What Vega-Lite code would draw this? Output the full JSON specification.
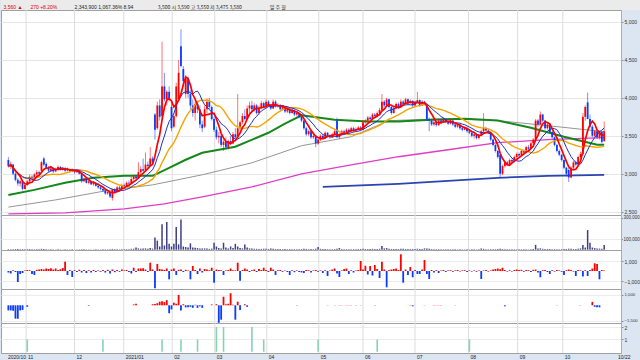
{
"$schema":"https://vega.github.io/schema/vega-lite/v6.json",
"padding":0,
"background":"#dbe6f2",
"spacing":0,
"bounds":"flush",
"config":{"view":{"fill":"#ffffff","stroke":"#a0a0a0","strokeWidth":1},"text":{"font":"Noto Sans CJK KR","fontSize":5},"axis":{"labelFont":"Liberation Sans","labelFontSize":5,"labelColor":"#333333","labelOverlap":false}},
"datasets":{
"months":[{"b":7.5},{"b":28},{"b":48.8},{"b":69.3},{"b":87.3},{"b":109.3},{"b":131.3},{"b":150},{"b":172},{"b":194.6},{"b":215.4},{"b":234.5}],
"d":[
{"i":0,"o":3180,"h":3220,"l":3080,"c":3100,"v":5000,"f":-150,"g":-500},
{"i":1,"o":3100,"h":3160,"l":3060,"c":3130,"v":4000,"f":-250,"g":-500},
{"i":2,"o":3120,"h":3130,"l":2980,"c":3000,"v":5000,"f":80,"g":-520},
{"i":3,"o":3000,"h":3020,"l":2900,"c":2920,"v":6000,"f":-100,"g":-1300},
{"i":4,"o":2920,"h":2940,"l":2840,"c":2870,"v":7000,"f":-1100,"g":-1300},
{"i":5,"o":2870,"h":2920,"l":2830,"c":2900,"v":4000,"f":-300,"g":-500},
{"i":6,"o":2890,"h":2900,"l":2780,"c":2800,"v":5000,"f":-200,"g":-450},
{"i":7,"o":2800,"h":2870,"l":2790,"c":2850,"v":4000,"f":60,"g":0},
{"i":8,"o":2850,"h":2920,"l":2840,"c":2900,"v":5000,"f":100,"g":-150},
{"i":9,"o":2900,"h":2990,"l":2890,"c":2960,"v":6000,"f":80,"g":0},
{"i":10,"o":2960,"h":2980,"l":2910,"c":2930,"v":3000,"f":-300,"g":0},
{"i":11,"o":2930,"h":3010,"l":2920,"c":2990,"v":4000,"f":-400,"g":0},
{"i":12,"o":2990,"h":3050,"l":2970,"c":3020,"v":5000,"f":120,"g":0},
{"i":13,"o":3020,"h":3040,"l":2980,"c":3000,"v":3000,"f":150,"g":0},
{"i":14,"o":3040,"h":3170,"l":3030,"c":3150,"v":8000,"f":200,"g":0},
{"i":15,"o":3200,"h":3220,"l":3100,"c":3120,"v":6000,"f":150,"g":0},
{"i":16,"o":3130,"h":3150,"l":3060,"c":3080,"v":4000,"f":250,"g":0},
{"i":17,"o":3080,"h":3100,"l":3020,"c":3040,"v":3000,"f":200,"g":0},
{"i":18,"o":3040,"h":3090,"l":3030,"c":3070,"v":3000,"f":280,"g":0},
{"i":19,"o":3070,"h":3080,"l":3010,"c":3030,"v":3000,"f":150,"g":0},
{"i":20,"o":3030,"h":3080,"l":3020,"c":3060,"v":2000,"f":250,"g":0},
{"i":21,"o":3060,"h":3110,"l":3050,"c":3090,"v":3000,"f":100,"g":0},
{"i":22,"o":3090,"h":3100,"l":3040,"c":3050,"v":3000,"f":180,"g":0},
{"i":23,"o":3050,"h":3090,"l":3040,"c":3070,"v":2000,"f":300,"g":0},
{"i":24,"o":3070,"h":3090,"l":3020,"c":3040,"v":4000,"f":930,"g":0},
{"i":25,"o":3040,"h":3080,"l":3030,"c":3060,"v":3000,"f":-400,"g":0},
{"i":26,"o":3060,"h":3070,"l":3010,"c":3030,"v":2000,"f":100,"g":0},
{"i":27,"o":3030,"h":3070,"l":3020,"c":3050,"v":3000,"f":-600,"g":0},
{"i":28,"o":3050,"h":3060,"l":3000,"c":3020,"v":2000,"f":80,"g":0},
{"i":29,"o":3020,"h":3060,"l":3010,"c":3040,"v":2000,"f":-100,"g":0},
{"i":30,"o":3040,"h":3050,"l":2990,"c":3000,"v":3000,"f":120,"g":0},
{"i":31,"o":3000,"h":3010,"l":2880,"c":2900,"v":5000,"f":-150,"g":0},
{"i":32,"o":2900,"h":2950,"l":2890,"c":2930,"v":3000,"f":100,"g":0},
{"i":33,"o":2930,"h":2940,"l":2870,"c":2880,"v":3000,"f":-200,"g":0},
{"i":34,"o":2880,"h":2920,"l":2860,"c":2900,"v":2000,"f":80,"g":-50},
{"i":35,"o":2900,"h":2910,"l":2850,"c":2860,"v":2000,"f":-150,"g":0},
{"i":36,"o":2860,"h":2900,"l":2840,"c":2880,"v":2000,"f":100,"g":0},
{"i":37,"o":2880,"h":2890,"l":2830,"c":2840,"v":3000,"f":-100,"g":0},
{"i":38,"o":2840,"h":2860,"l":2800,"c":2820,"v":2000,"f":60,"g":0},
{"i":39,"o":2820,"h":2840,"l":2780,"c":2800,"v":3000,"f":-80,"g":0},
{"i":40,"o":2800,"h":2820,"l":2760,"c":2780,"v":3000,"f":100,"g":0},
{"i":41,"o":2780,"h":2790,"l":2720,"c":2740,"v":4000,"f":-150,"g":0},
{"i":42,"o":2740,"h":2780,"l":2720,"c":2760,"v":3000,"f":120,"g":0},
{"i":43,"o":2760,"h":2770,"l":2680,"c":2700,"v":5000,"f":-250,"g":0},
{"i":44,"o":2680,"h":2800,"l":2645,"c":2790,"v":7000,"f":150,"g":0},
{"i":45,"o":2790,"h":2810,"l":2740,"c":2760,"v":4000,"f":-120,"g":0},
{"i":46,"o":2760,"h":2840,"l":2750,"c":2820,"v":4000,"f":100,"g":0},
{"i":47,"o":2820,"h":2840,"l":2780,"c":2800,"v":3000,"f":-80,"g":0},
{"i":48,"o":2800,"h":2870,"l":2790,"c":2850,"v":4000,"f":150,"g":0},
{"i":49,"o":2850,"h":2870,"l":2810,"c":2830,"v":3000,"f":60,"g":0},
{"i":50,"o":2830,"h":2900,"l":2820,"c":2880,"v":5000,"f":100,"g":0},
{"i":51,"o":2880,"h":2910,"l":2850,"c":2870,"v":4000,"f":-100,"g":0},
{"i":52,"o":2870,"h":2960,"l":2860,"c":2930,"v":8000,"f":-250,"g":0},
{"i":53,"o":2930,"h":2990,"l":2910,"c":2960,"v":9000,"f":330,"g":80},
{"i":54,"o":2960,"h":2990,"l":2920,"c":2940,"v":20000,"f":-100,"g":160},
{"i":55,"o":2940,"h":3150,"l":2930,"c":3020,"v":12000,"f":250,"g":0},
{"i":56,"o":3020,"h":3100,"l":3000,"c":3060,"v":8000,"f":250,"g":0},
{"i":57,"o":3060,"h":3200,"l":3020,"c":3040,"v":10000,"f":280,"g":0},
{"i":58,"o":3040,"h":3280,"l":3030,"c":3120,"v":12000,"f":150,"g":0},
{"i":59,"o":3120,"h":3160,"l":3070,"c":3100,"v":8000,"f":-100,"g":0},
{"i":60,"o":3100,"h":3350,"l":3090,"c":3200,"v":15000,"f":830,"g":0},
{"i":61,"o":3200,"h":3230,"l":3120,"c":3150,"v":10000,"f":150,"g":100},
{"i":62,"o":3780,"h":3800,"l":3450,"c":3580,"v":115000,"f":-1730,"g":120},
{"i":63,"o":3600,"h":3950,"l":3580,"c":3900,"v":85000,"f":700,"g":200},
{"i":64,"o":3900,"h":3980,"l":3700,"c":3750,"v":30000,"f":200,"g":350},
{"i":65,"o":3760,"h":4740,"l":3720,"c":4150,"v":240000,"f":150,"g":400},
{"i":66,"o":4150,"h":4330,"l":3950,"c":3980,"v":40000,"f":100,"g":300},
{"i":67,"o":3980,"h":4100,"l":3900,"c":4080,"v":260000,"f":250,"g":500},
{"i":68,"o":4080,"h":4150,"l":3950,"c":3990,"v":55000,"f":-830,"g":-770},
{"i":69,"o":3880,"h":3950,"l":3560,"c":3600,"v":30000,"f":150,"g":-400},
{"i":70,"o":3620,"h":3800,"l":3600,"c":3760,"v":55000,"f":250,"g":250},
{"i":71,"o":3760,"h":4200,"l":3740,"c":4150,"v":215000,"f":-400,"g":150},
{"i":72,"o":3980,"h":4500,"l":3960,"c":4330,"v":50000,"f":120,"g":1000},
{"i":73,"o":4680,"h":4905,"l":4400,"c":4420,"v":285000,"f":150,"g":-500},
{"i":74,"o":4380,"h":4420,"l":4150,"c":4220,"v":30000,"f":-100,"g":100},
{"i":75,"o":4050,"h":4300,"l":4000,"c":4250,"v":25000,"f":120,"g":-200},
{"i":76,"o":4250,"h":4280,"l":4000,"c":4050,"v":20000,"f":60,"g":-200},
{"i":77,"o":4050,"h":4100,"l":3850,"c":3900,"v":60000,"f":-830,"g":-150},
{"i":78,"o":3900,"h":3980,"l":3750,"c":3800,"v":20000,"f":500,"g":-250},
{"i":79,"o":3800,"h":3950,"l":3700,"c":3920,"v":18000,"f":100,"g":50},
{"i":80,"o":3920,"h":3960,"l":3800,"c":3850,"v":15000,"f":-300,"g":-250},
{"i":81,"o":3850,"h":3900,"l":3600,"c":3650,"v":12000,"f":250,"g":-100},
{"i":82,"o":3650,"h":3700,"l":3550,"c":3600,"v":10000,"f":-150,"g":-250},
{"i":83,"o":3620,"h":3900,"l":3600,"c":3850,"v":12000,"f":200,"g":0},
{"i":84,"o":3850,"h":3990,"l":3800,"c":3950,"v":10000,"f":150,"g":0},
{"i":85,"o":3950,"h":4000,"l":3850,"c":3880,"v":8000,"f":80,"g":0},
{"i":86,"o":3880,"h":3900,"l":3700,"c":3720,"v":10000,"f":330,"g":80},
{"i":87,"o":3720,"h":3750,"l":3550,"c":3580,"v":65000,"f":-1170,"g":0},
{"i":88,"o":3580,"h":3620,"l":3450,"c":3480,"v":30000,"f":150,"g":100},
{"i":89,"o":3480,"h":3550,"l":3400,"c":3500,"v":15000,"f":100,"g":-1700},
{"i":90,"o":3500,"h":3520,"l":3350,"c":3380,"v":12000,"f":80,"g":-1400},
{"i":91,"o":3380,"h":3450,"l":3300,"c":3420,"v":65000,"f":-400,"g":830},
{"i":92,"o":3420,"h":3480,"l":3320,"c":3350,"v":20000,"f":60,"g":100},
{"i":93,"o":3350,"h":3450,"l":3320,"c":3430,"v":12000,"f":100,"g":150},
{"i":94,"o":3430,"h":3500,"l":3380,"c":3400,"v":30000,"f":250,"g":1170},
{"i":95,"o":3400,"h":3550,"l":3390,"c":3520,"v":15000,"f":80,"g":50},
{"i":96,"o":3520,"h":3600,"l":3450,"c":3480,"v":55000,"f":60,"g":-1400},
{"i":97,"o":3480,"h":4050,"l":3460,"c":3600,"v":30000,"f":830,"g":350},
{"i":98,"o":3600,"h":3700,"l":3560,"c":3680,"v":15000,"f":-970,"g":-450},
{"i":99,"o":3680,"h":3800,"l":3650,"c":3760,"v":12000,"f":100,"g":0},
{"i":100,"o":3760,"h":3850,"l":3700,"c":3720,"v":50000,"f":250,"g":100},
{"i":101,"o":3720,"h":3900,"l":3700,"c":3860,"v":20000,"f":150,"g":-150},
{"i":102,"o":3860,"h":3950,"l":3800,"c":3900,"v":12000,"f":-100,"g":0},
{"i":103,"o":3900,"h":3960,"l":3820,"c":3850,"v":10000,"f":80,"g":0},
{"i":104,"o":3850,"h":3930,"l":3820,"c":3900,"v":8000,"f":150,"g":0},
{"i":105,"o":3900,"h":3920,"l":3780,"c":3800,"v":8000,"f":-100,"g":0},
{"i":106,"o":3800,"h":3900,"l":3780,"c":3870,"v":7000,"f":200,"g":0},
{"i":107,"o":3870,"h":3960,"l":3850,"c":3930,"v":8000,"f":100,"g":0},
{"i":108,"o":3930,"h":3950,"l":3860,"c":3880,"v":9000,"f":330,"g":0},
{"i":109,"o":3880,"h":3980,"l":3860,"c":3950,"v":8000,"f":100,"g":0},
{"i":110,"o":3950,"h":3970,"l":3880,"c":3900,"v":7000,"f":-100,"g":0},
{"i":111,"o":3900,"h":3920,"l":3840,"c":3860,"v":12000,"f":330,"g":0},
{"i":112,"o":3860,"h":3980,"l":3850,"c":3950,"v":8000,"f":150,"g":0},
{"i":113,"o":3950,"h":3970,"l":3870,"c":3890,"v":7000,"f":-400,"g":0},
{"i":114,"o":3890,"h":3930,"l":3870,"c":3900,"v":6000,"f":80,"g":0},
{"i":115,"o":3900,"h":3920,"l":3830,"c":3850,"v":6000,"f":100,"g":0},
{"i":116,"o":3850,"h":3900,"l":3830,"c":3880,"v":5000,"f":-80,"g":0},
{"i":117,"o":3880,"h":3890,"l":3800,"c":3820,"v":6000,"f":60,"g":0},
{"i":118,"o":3820,"h":3880,"l":3800,"c":3860,"v":5000,"f":-100,"g":0},
{"i":119,"o":3860,"h":3870,"l":3780,"c":3800,"v":6000,"f":-400,"g":0},
{"i":120,"o":3800,"h":3860,"l":3790,"c":3840,"v":5000,"f":80,"g":0},
{"i":121,"o":3840,"h":3850,"l":3760,"c":3780,"v":5000,"f":-120,"g":0},
{"i":122,"o":3780,"h":3820,"l":3760,"c":3800,"v":4000,"f":60,"g":-30},
{"i":123,"o":3800,"h":3810,"l":3730,"c":3750,"v":5000,"f":-100,"g":0},
{"i":124,"o":3750,"h":3760,"l":3680,"c":3700,"v":6000,"f":-150,"g":0},
{"i":125,"o":3700,"h":3710,"l":3580,"c":3600,"v":8000,"f":-200,"g":0},
{"i":126,"o":3600,"h":3620,"l":3500,"c":3520,"v":7000,"f":100,"g":0},
{"i":127,"o":3520,"h":3580,"l":3500,"c":3560,"v":5000,"f":80,"g":0},
{"i":128,"o":3560,"h":3570,"l":3460,"c":3480,"v":6000,"f":-150,"g":0},
{"i":129,"o":3480,"h":3520,"l":3460,"c":3500,"v":5000,"f":60,"g":0},
{"i":130,"o":3500,"h":3510,"l":3350,"c":3400,"v":9000,"f":100,"g":0},
{"i":131,"o":3400,"h":3470,"l":3380,"c":3450,"v":25000,"f":-80,"g":0},
{"i":132,"o":3450,"h":3520,"l":3430,"c":3500,"v":8000,"f":60,"g":0},
{"i":133,"o":3500,"h":3520,"l":3450,"c":3470,"v":6000,"f":-200,"g":0},
{"i":134,"o":3470,"h":3560,"l":3460,"c":3540,"v":6000,"f":80,"g":0},
{"i":135,"o":3540,"h":3550,"l":3480,"c":3500,"v":5000,"f":-500,"g":20},
{"i":136,"o":3500,"h":3520,"l":3460,"c":3480,"v":5000,"f":60,"g":0},
{"i":137,"o":3480,"h":3540,"l":3470,"c":3520,"v":5000,"f":150,"g":0},
{"i":138,"o":3520,"h":3580,"l":3500,"c":3560,"v":6000,"f":250,"g":20},
{"i":139,"o":3700,"h":3740,"l":3470,"c":3480,"v":9000,"f":-250,"g":0},
{"i":140,"o":3480,"h":3540,"l":3460,"c":3520,"v":15000,"f":-600,"g":20},
{"i":141,"o":3520,"h":3580,"l":3500,"c":3560,"v":6000,"f":60,"g":20},
{"i":142,"o":3560,"h":3580,"l":3520,"c":3540,"v":5000,"f":200,"g":0},
{"i":143,"o":3540,"h":3600,"l":3530,"c":3580,"v":5000,"f":250,"g":30},
{"i":144,"o":3580,"h":3600,"l":3540,"c":3560,"v":5000,"f":-300,"g":20},
{"i":145,"o":3560,"h":3620,"l":3550,"c":3600,"v":5000,"f":80,"g":20},
{"i":146,"o":3600,"h":3620,"l":3550,"c":3570,"v":5000,"f":-150,"g":0},
{"i":147,"o":3570,"h":3610,"l":3560,"c":3590,"v":5000,"f":60,"g":20},
{"i":148,"o":3590,"h":3630,"l":3570,"c":3610,"v":6000,"f":100,"g":0},
{"i":149,"o":3610,"h":3630,"l":3560,"c":3580,"v":7000,"f":1000,"g":20},
{"i":150,"o":3580,"h":3700,"l":3570,"c":3680,"v":8000,"f":150,"g":0},
{"i":151,"o":3680,"h":3720,"l":3660,"c":3700,"v":7000,"f":530,"g":0},
{"i":152,"o":3700,"h":3760,"l":3680,"c":3740,"v":6000,"f":-350,"g":0},
{"i":153,"o":3740,"h":3760,"l":3700,"c":3720,"v":6000,"f":500,"g":0},
{"i":154,"o":3720,"h":3800,"l":3710,"c":3780,"v":8000,"f":-450,"g":0},
{"i":155,"o":3780,"h":3800,"l":3740,"c":3760,"v":6000,"f":600,"g":-30},
{"i":156,"o":3760,"h":3820,"l":3740,"c":3800,"v":7000,"f":200,"g":0},
{"i":157,"o":3800,"h":3870,"l":3780,"c":3840,"v":9000,"f":-700,"g":0},
{"i":158,"o":3840,"h":4050,"l":3830,"c":3950,"v":35000,"f":930,"g":0},
{"i":159,"o":3950,"h":3970,"l":3880,"c":3900,"v":12000,"f":150,"g":0},
{"i":160,"o":3900,"h":4000,"l":3880,"c":3980,"v":15000,"f":-1630,"g":0},
{"i":161,"o":3980,"h":3990,"l":3860,"c":3880,"v":8000,"f":100,"g":0},
{"i":162,"o":3880,"h":3890,"l":3780,"c":3800,"v":7000,"f":150,"g":0},
{"i":163,"o":3800,"h":3880,"l":3790,"c":3860,"v":6000,"f":200,"g":0},
{"i":164,"o":3860,"h":3940,"l":3850,"c":3920,"v":7000,"f":250,"g":0},
{"i":165,"o":3920,"h":3940,"l":3860,"c":3880,"v":6000,"f":100,"g":0},
{"i":166,"o":3880,"h":3980,"l":3870,"c":3950,"v":9000,"f":1670,"g":0},
{"i":167,"o":3950,"h":3970,"l":3900,"c":3920,"v":8000,"f":-1170,"g":0},
{"i":168,"o":3920,"h":4000,"l":3910,"c":3980,"v":7000,"f":150,"g":0},
{"i":169,"o":3980,"h":3990,"l":3910,"c":3930,"v":6000,"f":-400,"g":0},
{"i":170,"o":3930,"h":3980,"l":3920,"c":3960,"v":6000,"f":400,"g":30},
{"i":171,"o":3960,"h":3970,"l":3880,"c":3900,"v":7000,"f":-630,"g":-100},
{"i":172,"o":3900,"h":3960,"l":3890,"c":3940,"v":6000,"f":100,"g":0},
{"i":173,"o":3940,"h":4080,"l":3930,"c":3970,"v":9000,"f":-300,"g":0},
{"i":174,"o":3970,"h":3980,"l":3880,"c":3900,"v":7000,"f":-300,"g":0},
{"i":175,"o":3900,"h":3970,"l":3890,"c":3950,"v":6000,"f":150,"g":0},
{"i":176,"o":3950,"h":3960,"l":3900,"c":3920,"v":12000,"f":1100,"g":20},
{"i":177,"o":3920,"h":3930,"l":3700,"c":3720,"v":10000,"f":-300,"g":0},
{"i":178,"o":3720,"h":3740,"l":3560,"c":3700,"v":9000,"f":-800,"g":0},
{"i":179,"o":3700,"h":3720,"l":3630,"c":3650,"v":6000,"f":100,"g":0},
{"i":180,"o":3650,"h":3700,"l":3630,"c":3680,"v":5000,"f":-150,"g":20},
{"i":181,"o":3680,"h":3690,"l":3620,"c":3640,"v":5000,"f":80,"g":20},
{"i":182,"o":3640,"h":3720,"l":3630,"c":3700,"v":5000,"f":-200,"g":20},
{"i":183,"o":3700,"h":3720,"l":3660,"c":3680,"v":4000,"f":60,"g":20},
{"i":184,"o":3680,"h":3740,"l":3670,"c":3720,"v":4000,"f":100,"g":0},
{"i":185,"o":3720,"h":3730,"l":3670,"c":3690,"v":4000,"f":-100,"g":0},
{"i":186,"o":3690,"h":3700,"l":3640,"c":3660,"v":4000,"f":60,"g":0},
{"i":187,"o":3660,"h":3720,"l":3650,"c":3700,"v":4000,"f":80,"g":0},
{"i":188,"o":3700,"h":3710,"l":3630,"c":3650,"v":4000,"f":-80,"g":0},
{"i":189,"o":3650,"h":3660,"l":3600,"c":3620,"v":4000,"f":60,"g":20},
{"i":190,"o":3620,"h":3660,"l":3600,"c":3640,"v":3000,"f":100,"g":0},
{"i":191,"o":3640,"h":3650,"l":3580,"c":3600,"v":3000,"f":-60,"g":0},
{"i":192,"o":3600,"h":3620,"l":3560,"c":3580,"v":3000,"f":60,"g":0},
{"i":193,"o":3580,"h":3620,"l":3570,"c":3600,"v":3000,"f":80,"g":0},
{"i":194,"o":3600,"h":3610,"l":3540,"c":3560,"v":3000,"f":-100,"g":0},
{"i":195,"o":3560,"h":3580,"l":3520,"c":3540,"v":3000,"f":60,"g":0},
{"i":196,"o":3540,"h":3550,"l":3480,"c":3500,"v":4000,"f":-60,"g":0},
{"i":197,"o":3500,"h":3540,"l":3460,"c":3520,"v":3000,"f":60,"g":0},
{"i":198,"o":3520,"h":3530,"l":3450,"c":3470,"v":3000,"f":-80,"g":0},
{"i":199,"o":3470,"h":3520,"l":3450,"c":3500,"v":3000,"f":60,"g":0},
{"i":200,"o":3500,"h":3580,"l":3490,"c":3560,"v":10000,"f":-800,"g":0},
{"i":201,"o":3560,"h":3800,"l":3550,"c":3600,"v":8000,"f":60,"g":0},
{"i":202,"o":3600,"h":3620,"l":3550,"c":3570,"v":4000,"f":100,"g":0},
{"i":203,"o":3570,"h":3590,"l":3520,"c":3540,"v":4000,"f":-60,"g":0},
{"i":204,"o":3540,"h":3550,"l":3430,"c":3450,"v":5000,"f":60,"g":0},
{"i":205,"o":3450,"h":3460,"l":3360,"c":3380,"v":5000,"f":150,"g":0},
{"i":206,"o":3380,"h":3390,"l":3280,"c":3300,"v":5000,"f":200,"g":0},
{"i":207,"o":3300,"h":3310,"l":3200,"c":3220,"v":6000,"f":250,"g":0},
{"i":208,"o":3250,"h":3260,"l":2950,"c":3000,"v":9000,"f":180,"g":0},
{"i":209,"o":3000,"h":3120,"l":2980,"c":3100,"v":6000,"f":330,"g":0},
{"i":210,"o":3100,"h":3170,"l":3080,"c":3150,"v":5000,"f":100,"g":-100},
{"i":211,"o":3150,"h":3170,"l":3100,"c":3120,"v":4000,"f":-60,"g":0},
{"i":212,"o":3120,"h":3200,"l":3110,"c":3180,"v":4000,"f":80,"g":0},
{"i":213,"o":3180,"h":3200,"l":3140,"c":3160,"v":3000,"f":-60,"g":0},
{"i":214,"o":3160,"h":3240,"l":3150,"c":3220,"v":4000,"f":100,"g":0},
{"i":215,"o":3220,"h":3280,"l":3200,"c":3260,"v":4000,"f":150,"g":0},
{"i":216,"o":3260,"h":3280,"l":3220,"c":3240,"v":3000,"f":100,"g":0},
{"i":217,"o":3240,"h":3320,"l":3230,"c":3300,"v":4000,"f":120,"g":0},
{"i":218,"o":3300,"h":3320,"l":3260,"c":3280,"v":3000,"f":-80,"g":0},
{"i":219,"o":3280,"h":3370,"l":3270,"c":3350,"v":4000,"f":100,"g":0},
{"i":220,"o":3350,"h":3380,"l":3310,"c":3330,"v":3000,"f":80,"g":0},
{"i":221,"o":3330,"h":3420,"l":3320,"c":3400,"v":5000,"f":-100,"g":0},
{"i":222,"o":3400,"h":3470,"l":3380,"c":3450,"v":6000,"f":120,"g":0},
{"i":223,"o":3450,"h":3720,"l":3440,"c":3700,"v":45000,"f":150,"g":0},
{"i":224,"o":3700,"h":3720,"l":3620,"c":3650,"v":10000,"f":-150,"g":0},
{"i":225,"o":3650,"h":3820,"l":3640,"c":3780,"v":12000,"f":-630,"g":0},
{"i":226,"o":3780,"h":3790,"l":3680,"c":3700,"v":8000,"f":80,"g":0},
{"i":227,"o":3700,"h":3710,"l":3580,"c":3600,"v":7000,"f":100,"g":0},
{"i":228,"o":3600,"h":3670,"l":3580,"c":3650,"v":6000,"f":-100,"g":0},
{"i":229,"o":3650,"h":3660,"l":3530,"c":3550,"v":6000,"f":-300,"g":0},
{"i":230,"o":3550,"h":3560,"l":3460,"c":3480,"v":5000,"f":80,"g":0},
{"i":231,"o":3480,"h":3490,"l":3360,"c":3380,"v":5000,"f":-60,"g":0},
{"i":232,"o":3380,"h":3390,"l":3280,"c":3300,"v":5000,"f":100,"g":20},
{"i":233,"o":3300,"h":3320,"l":3230,"c":3250,"v":4000,"f":60,"g":0},
{"i":234,"o":3250,"h":3260,"l":3160,"c":3180,"v":5000,"f":-80,"g":0},
{"i":235,"o":3180,"h":3190,"l":3060,"c":3080,"v":6000,"f":-400,"g":0},
{"i":236,"o":3080,"h":3090,"l":2960,"c":3000,"v":7000,"f":80,"g":0},
{"i":237,"o":3050,"h":3080,"l":2890,"c":2950,"v":9000,"f":150,"g":0},
{"i":238,"o":2950,"h":3100,"l":2940,"c":3080,"v":8000,"f":100,"g":0},
{"i":239,"o":3080,"h":3170,"l":3060,"c":3150,"v":7000,"f":-60,"g":0},
{"i":240,"o":3150,"h":3170,"l":3100,"c":3120,"v":6000,"f":-500,"g":0},
{"i":241,"o":3120,"h":3240,"l":3110,"c":3220,"v":9000,"f":100,"g":0},
{"i":242,"o":3220,"h":3290,"l":3200,"c":3260,"v":12000,"f":60,"g":30},
{"i":243,"o":3260,"h":3800,"l":3240,"c":3750,"v":45000,"f":-550,"g":0},
{"i":244,"o":3750,"h":3900,"l":3700,"c":3880,"v":20000,"f":80,"g":0},
{"i":245,"o":3940,"h":4070,"l":3720,"c":3720,"v":185000,"f":-500,"g":0},
{"i":246,"o":3720,"h":3780,"l":3600,"c":3620,"v":65000,"f":100,"g":0},
{"i":247,"o":3620,"h":3640,"l":3480,"c":3500,"v":20000,"f":250,"g":330},
{"i":248,"o":3500,"h":3580,"l":3480,"c":3560,"v":15000,"f":770,"g":-150},
{"i":249,"o":3560,"h":3570,"l":3460,"c":3480,"v":12000,"f":700,"g":-200},
{"i":250,"o":3480,"h":3570,"l":3450,"c":3550,"v":10000,"f":-830,"g":-200},
{"i":251,"o":3550,"h":3560,"l":3400,"c":3420,"v":8000,"f":100,"g":0},
{"i":252,"o":3430,"h":3690,"l":3420,"c":3560,"v":45000,"f":50,"g":0}
],
"ma":[
{"s":"a","i":0,"v":2560},{"s":"a","i":20,"v":2655},{"s":"a","i":41,"v":2774},{"s":"a","i":61,"v":2853},{"s":"a","i":82,"v":2986},{"s":"a","i":103,"v":3144},{"s":"a","i":124,"v":3369},{"s":"a","i":145,"v":3488},{"s":"a","i":161,"v":3700},{"s":"a","i":186,"v":3726},{"s":"a","i":207,"v":3700},{"s":"a","i":228,"v":3634},{"s":"a","i":252,"v":3554},
{"s":"g","i":0,"v":2721},{"s":"g","i":11,"v":2787},{"s":"g","i":24,"v":2880},{"s":"g","i":36,"v":2946},{"s":"g","i":49,"v":2972},{"s":"g","i":61,"v":2972},{"s":"g","i":68,"v":3078},{"s":"g","i":75,"v":3184},{"s":"g","i":82,"v":3277},{"s":"g","i":96,"v":3356},{"s":"g","i":110,"v":3540},{"s":"g","i":117,"v":3660},{"s":"g","i":124,"v":3770},{"s":"g","i":138,"v":3713},{"s":"g","i":152,"v":3687},{"s":"g","i":165,"v":3687},{"s":"g","i":179,"v":3713},{"s":"g","i":193,"v":3726},{"s":"g","i":207,"v":3700},{"s":"g","i":221,"v":3607},{"s":"g","i":235,"v":3488},{"s":"g","i":249,"v":3382},{"s":"g","i":252,"v":3382},
{"s":"p","i":0,"v":2470},{"s":"p","i":24,"v":2483},{"s":"p","i":49,"v":2536},{"s":"p","i":66,"v":2602},{"s":"p","i":82,"v":2694},{"s":"p","i":103,"v":2827},{"s":"p","i":124,"v":2999},{"s":"p","i":145,"v":3118},{"s":"p","i":165,"v":3224},{"s":"p","i":186,"v":3316},{"s":"p","i":207,"v":3409},{"s":"p","i":228,"v":3449},{"s":"p","i":252,"v":3475},
{"s":"n","i":133,"v":2827},{"s":"n","i":165,"v":2866},{"s":"n","i":186,"v":2906},{"s":"n","i":207,"v":2946},{"s":"n","i":228,"v":2972},{"s":"n","i":252,"v":2986}
],
"sig":[
{"i":8,"s":1},{"i":40,"s":1},{"i":65,"s":1},{"i":73,"s":1},{"i":80,"s":1},{"i":88,"s":2},{"i":91,"s":2},{"i":103,"s":2},{"i":108,"s":1},{"i":131,"s":1},{"i":156,"s":1},{"i":195,"s":1}
]
},
"vconcat":[
{
"width":640,"height":10,
"view":{"fill":"#ebebeb","stroke":null},
"data":{"values":[{}]},
"encoding":{"x":{"datum":0,"type":"quantitative","scale":{"domain":[0,100]},"axis":null},"y":{"datum":3,"type":"quantitative","scale":{"domain":[0,10]},"axis":null}},
"layer":[
{"mark":{"type":"text","align":"left","baseline":"middle","fontSize":5,"color":"#e00000","font":"Liberation Sans"},"encoding":{"x":{"datum":0.4,"type":"quantitative"},"text":{"value":"3,560 ▲"}}},
{"mark":{"type":"text","align":"left","baseline":"middle","fontSize":5,"color":"#e00000","font":"Liberation Sans"},"encoding":{"x":{"datum":4.6,"type":"quantitative"},"text":{"value":"270   +8.20%"}}},
{"mark":{"type":"text","align":"left","baseline":"middle","fontSize":5,"color":"#222222","font":"Liberation Sans"},"encoding":{"x":{"datum":11.5,"type":"quantitative"},"text":{"value":"2,343,900   1,067.36%   8.94"}}},
{"mark":{"type":"text","align":"left","baseline":"middle","fontSize":5,"color":"#222222"},"encoding":{"x":{"datum":24.5,"type":"quantitative"},"text":{"value":"3,500 시  3,590 고  3,550 저  3,475  3,580"}}},
{"mark":{"type":"text","align":"left","baseline":"middle","fontSize":5,"color":"#222222"},"encoding":{"x":{"datum":42,"type":"quantitative"},"text":{"value":"일  주  월"}}}
]
},
{
"width":620,"height":205,
"encoding":{"x":{"field":"i","type":"quantitative","scale":{"domain":[-1,257],"nice":false,"zero":false},"axis":null}},
"layer":[
{"data":{"name":"months"},"mark":{"type":"rule","color":"#dcdcdc","strokeWidth":1},"encoding":{"x":{"field":"b","type":"quantitative","scale":{"domain":[-1,257],"nice":false,"zero":false},"axis":null}}},
{"data":{"name":"ma"},"transform":[{"filter":"datum.s=='a'"}],"mark":{"type":"line","color":"#969696","strokeWidth":1},"encoding":{"y":{"field":"v","type":"quantitative","scale":{"domain":[2456,5158],"nice":false,"zero":false},"axis":{"orient":"right","values":[2500,2750,3000,3250,3500,3750,4000,4250,4500,4750,5000],"format":",d","grid":true,"gridColor":"#e6e6e6","tickSize":2,"tickColor":"#7d8ea6","labelPadding":1,"domain":true,"domainColor":"#9fb0c8","title":null,"minExtent":20,"maxExtent":20}}}},
{"data":{"name":"ma"},"transform":[{"filter":"datum.s=='p'"}],"mark":{"type":"line","color":"#e03cc4","strokeWidth":1.3},"encoding":{"y":{"field":"v","type":"quantitative","scale":{"domain":[2456,5158],"nice":false,"zero":false}}}},
{"data":{"name":"ma"},"transform":[{"filter":"datum.s=='n'"}],"mark":{"type":"line","color":"#2a44b0","strokeWidth":1.8},"encoding":{"y":{"field":"v","type":"quantitative","scale":{"domain":[2456,5158],"nice":false,"zero":false}}}},
{"data":{"name":"ma"},"transform":[{"filter":"datum.s=='g'"}],"mark":{"type":"line","color":"#15871b","strokeWidth":2},"encoding":{"y":{"field":"v","type":"quantitative","scale":{"domain":[2456,5158],"nice":false,"zero":false}}}},
{"data":{"name":"d"},"mark":{"type":"rule","strokeWidth":1,"opacity":0.55},"encoding":{"y":{"field":"l","type":"quantitative","scale":{"domain":[2456,5158],"nice":false,"zero":false}},"y2":{"field":"h"},"color":{"condition":{"test":"datum.c >= datum.o","value":"#ff0000"},"value":"#0a3cff"}}},
{"data":{"name":"d"},"mark":{"type":"bar","width":1.8},"encoding":{"y":{"field":"o","type":"quantitative","scale":{"domain":[2456,5158],"nice":false,"zero":false}},"y2":{"field":"c"},"color":{"condition":{"test":"datum.c >= datum.o","value":"#ff0000"},"value":"#0a3cff"}}},
{"data":{"name":"d"},"transform":[{"window":[{"op":"mean","field":"c","as":"m"}],"frame":[-19,0],"sort":[{"field":"i"}]}],"mark":{"type":"line","color":"#f5a300","strokeWidth":1.4},"encoding":{"y":{"field":"m","type":"quantitative","scale":{"domain":[2456,5158],"nice":false,"zero":false}}}},
{"data":{"name":"d"},"transform":[{"window":[{"op":"mean","field":"c","as":"m"}],"frame":[-9,0],"sort":[{"field":"i"}]}],"mark":{"type":"line","color":"#1c30c8","strokeWidth":1},"encoding":{"y":{"field":"m","type":"quantitative","scale":{"domain":[2456,5158],"nice":false,"zero":false}}}},
{"data":{"name":"d"},"transform":[{"window":[{"op":"mean","field":"c","as":"m"}],"frame":[-4,0],"sort":[{"field":"i"}]}],"mark":{"type":"line","color":"#ff0000","strokeWidth":1.7},"encoding":{"y":{"field":"m","type":"quantitative","scale":{"domain":[2456,5158],"nice":false,"zero":false}}}},
{"data":{"values":[{}]},"mark":{"type":"text","align":"left","baseline":"middle","color":"#222222"},"encoding":{"x":{"datum":-0.2,"type":"quantitative"},"y":{"datum":5112,"type":"quantitative"},"text":{"value":"▸ 일봉차트"}}},
{"data":{"values":[{}]},"mark":{"type":"text","align":"left","baseline":"middle","color":"#e00000"},"encoding":{"x":{"datum":7.3,"type":"quantitative"},"y":{"datum":5112,"type":"quantitative"},"text":{"value":"▸ 이동평균"}}},
{"data":{"values":[{}]},"mark":{"type":"text","align":"left","baseline":"middle","color":"#e00000","font":"Liberation Sans"},"encoding":{"x":{"datum":16.6,"type":"quantitative"},"y":{"datum":5112,"type":"quantitative"},"text":{"value":"5"}}},
{"data":{"values":[{}]},"mark":{"type":"text","align":"left","baseline":"middle","color":"#1c30c8","font":"Liberation Sans"},"encoding":{"x":{"datum":18.4,"type":"quantitative"},"y":{"datum":5112,"type":"quantitative"},"text":{"value":"10"}}},
{"data":{"values":[{}]},"mark":{"type":"text","align":"left","baseline":"middle","color":"#e89a00","font":"Liberation Sans"},"encoding":{"x":{"datum":21,"type":"quantitative"},"y":{"datum":5112,"type":"quantitative"},"text":{"value":"20"}}},
{"data":{"values":[{}]},"mark":{"type":"text","align":"left","baseline":"middle","color":"#15871b","font":"Liberation Sans"},"encoding":{"x":{"datum":23.6,"type":"quantitative"},"y":{"datum":5112,"type":"quantitative"},"text":{"value":"60"}}},
{"data":{"values":[{}]},"mark":{"type":"text","align":"left","baseline":"middle","color":"#808080","font":"Liberation Sans"},"encoding":{"x":{"datum":26.2,"type":"quantitative"},"y":{"datum":5112,"type":"quantitative"},"text":{"value":"120"}}},
{"data":{"values":[{}]},"mark":{"type":"text","align":"left","baseline":"middle","color":"#c030b0"},"encoding":{"x":{"datum":29.5,"type":"quantitative"},"y":{"datum":5112,"type":"quantitative"},"text":{"value":"▸ 이동평균 240 480"}}},
{"data":{"values":[{}]},"mark":{"type":"text","align":"left","baseline":"middle","color":"#2040d0"},"encoding":{"x":{"datum":43.5,"type":"quantitative"},"y":{"datum":5112,"type":"quantitative"},"text":{"value":"▸ 추세선"}}},
{"data":{"values":[{}]},"mark":{"type":"text","align":"right","baseline":"middle","color":"#e00000"},"encoding":{"x":{"datum":72.6,"type":"quantitative"},"y":{"datum":4950,"type":"quantitative"},"text":{"value":"최고 4,905(02/04) →"}}},
{"data":{"values":[{}]},"mark":{"type":"text","align":"right","baseline":"middle","color":"#1030e0"},"encoding":{"x":{"datum":42.8,"type":"quantitative"},"y":{"datum":2650,"type":"quantitative"},"text":{"value":"최저 2,645(12/23) →"}}},
{"data":{"values":[{}]},"mark":{"type":"rect","color":"#ff1010"},"encoding":{"x":{"datum":257.4,"type":"quantitative"},"x2":{"datum":265.2},"y":{"datum":3517,"type":"quantitative"},"y2":{"datum":3585}}},
{"data":{"values":[{}]},"mark":{"type":"text","align":"center","baseline":"middle","color":"#ffffff","font":"Liberation Sans","fontSize":4.6},"encoding":{"x":{"datum":261.3,"type":"quantitative"},"y":{"datum":3551,"type":"quantitative"},"text":{"value":"3,560"}}}
]
},
{
"width":620,"height":35,
"encoding":{"x":{"field":"i","type":"quantitative","scale":{"domain":[-1,257],"nice":false,"zero":false},"axis":null}},
"layer":[
{"data":{"name":"months"},"mark":{"type":"rule","color":"#dcdcdc","strokeWidth":1},"encoding":{"x":{"field":"b","type":"quantitative","scale":{"domain":[-1,257],"nice":false,"zero":false},"axis":null}}},
{"data":{"name":"d"},"mark":{"type":"bar","width":1.5,"color":"#3e3e88"},"encoding":{"y":{"field":"v","type":"quantitative","scale":{"domain":[-3000,327000],"nice":false,"zero":false},"axis":{"orient":"right","values":[100000,200000,300000],"format":",d","labelFontSize":4.5,"grid":true,"gridColor":"#ececec","tickSize":1.5,"tickColor":"#7d8ea6","labelPadding":0.5,"domain":true,"domainColor":"#9fb0c8","title":null,"minExtent":20,"maxExtent":20}}}},
{"data":{"values":[{}]},"mark":{"type":"text","align":"left","baseline":"middle","color":"#333333"},"encoding":{"x":{"datum":-0.4,"type":"quantitative"},"y":{"datum":301000,"type":"quantitative"},"text":{"value":"▸ 거래량"}}},
{"data":{"values":[{}]},"mark":{"type":"rect","color":"#ff00ff"},"encoding":{"x":{"datum":257.4,"type":"quantitative"},"x2":{"datum":265.2},"y":{"datum":40000,"type":"quantitative"},"y2":{"datum":70000}}},
{"data":{"values":[{}]},"mark":{"type":"text","align":"center","baseline":"middle","color":"#ffffff","font":"Liberation Sans","fontSize":4.4},"encoding":{"x":{"datum":261.3,"type":"quantitative"},"y":{"datum":55000,"type":"quantitative"},"text":{"value":"47,908"}}}
]
},
{
"width":620,"height":39,
"encoding":{"x":{"field":"i","type":"quantitative","scale":{"domain":[-1,257],"nice":false,"zero":false},"axis":null}},
"layer":[
{"data":{"name":"months"},"mark":{"type":"rule","color":"#dcdcdc","strokeWidth":1},"encoding":{"x":{"field":"b","type":"quantitative","scale":{"domain":[-1,257],"nice":false,"zero":false},"axis":null}}},
{"data":{"name":"d"},"mark":{"type":"bar","width":1.8},"encoding":{"y":{"field":"f","type":"quantitative","scale":{"domain":[-1800,2100],"nice":false,"zero":false},"axis":{"orient":"right","values":[-1000,0,1000],"format":",d","grid":true,"gridColor":"#ececec","tickSize":2,"tickColor":"#7d8ea6","labelPadding":1,"domain":true,"domainColor":"#9fb0c8","title":null,"minExtent":20,"maxExtent":20}},"color":{"condition":{"test":"datum.f >= 0","value":"#ff0000"},"value":"#0a3cff"}}},
{"data":{"values":[{}]},"mark":{"type":"text","align":"left","baseline":"middle","color":"#e00000"},"encoding":{"x":{"datum":-0.4,"type":"quantitative"},"y":{"datum":1800,"type":"quantitative"},"text":{"value":"▸ 외국인순매수(수량)(천주)"}}}
]
},
{
"width":620,"height":34,
"encoding":{"x":{"field":"i","type":"quantitative","scale":{"domain":[-1,257],"nice":false,"zero":false},"axis":null}},
"layer":[
{"data":{"name":"months"},"mark":{"type":"rule","color":"#dcdcdc","strokeWidth":1},"encoding":{"x":{"field":"b","type":"quantitative","scale":{"domain":[-1,257],"nice":false,"zero":false},"axis":null}}},
{"data":{"name":"d"},"mark":{"type":"bar","width":1.8},"encoding":{"y":{"field":"g","type":"quantitative","scale":{"domain":[-1720,1580],"nice":false,"zero":false},"axis":{"orient":"right","values":[-1500,-1000,-500,0,500,1000],"format":",d","labelFontSize":4.3,"grid":true,"gridColor":"#ececec","tickSize":2,"tickColor":"#7d8ea6","labelPadding":1,"domain":true,"domainColor":"#9fb0c8","title":null,"minExtent":20,"maxExtent":20}},"color":{"condition":{"test":"datum.g >= 0","value":"#ff0000"},"value":"#0a3cff"}}},
{"data":{"values":[{}]},"mark":{"type":"text","align":"left","baseline":"middle","color":"#e00000"},"encoding":{"x":{"datum":-0.4,"type":"quantitative"},"y":{"datum":1300,"type":"quantitative"},"text":{"value":"▸ 기관순매수(수량)(천주)"}}}
]
},
{
"width":620,"height":30,
"encoding":{"x":{"field":"i","type":"quantitative","scale":{"domain":[-1,257],"nice":false,"zero":false},"axis":{"values":[-1,7.5,28,48.8,69.3,87.3,109.3,131.3,150,172,194.6,215.4,234.5,257],"labelExpr":"datum.value < 0 ? '2020/10' : datum.value < 8 ? '11' : datum.value < 29 ? '12' : datum.value < 49 ? '2021/01' : datum.value < 70 ? '02' : datum.value < 88 ? '03' : datum.value < 110 ? '04' : datum.value < 132 ? '05' : datum.value < 151 ? '06' : datum.value < 173 ? '07' : datum.value < 195 ? '08' : datum.value < 216 ? '09' : datum.value < 240 ? '10' : '10/22'","labelAlign":"left","labelBaseline":"top","labelOffset":1.5,"labelPadding":1,"labelOverlap":false,"labelBound":false,"labelFlush":false,"labelColor":"#222222","ticks":false,"domain":false,"grid":false,"title":null,"minExtent":7,"maxExtent":7}}},
"layer":[
{"data":{"name":"months"},"mark":{"type":"rule","color":"#dcdcdc","strokeWidth":1},"encoding":{"x":{"field":"b","type":"quantitative","scale":{"domain":[-1,257],"nice":false,"zero":false}}}},
{"data":{"name":"sig"},"mark":{"type":"bar","width":1.6,"color":"#86d3b4"},"encoding":{"y":{"field":"s","type":"quantitative","scale":{"domain":[-0.1,2.33],"nice":false,"zero":false},"axis":{"orient":"right","values":[1,2],"grid":true,"gridColor":"#ececec","tickSize":2,"tickColor":"#7d8ea6","labelPadding":1,"domain":true,"domainColor":"#9fb0c8","title":null,"minExtent":20,"maxExtent":20}}}},
{"data":{"values":[{}]},"mark":{"type":"text","align":"left","baseline":"middle","color":"#3cb39e"},"encoding":{"x":{"datum":-0.4,"type":"quantitative"},"y":{"datum":2.08,"type":"quantitative"},"text":{"value":"▸ 신호"}}}
]
}
]
}
